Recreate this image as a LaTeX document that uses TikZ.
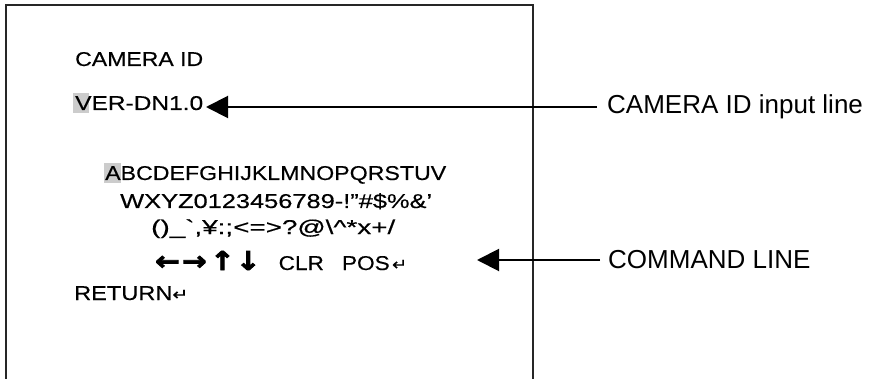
\documentclass[tikz,border=0pt]{standalone}
\usepackage{fontspec}
\usepackage{graphicx}
\setmainfont{Liberation Sans}
\newfontfamily\scr[FakeBold=0.35]{Liberation Sans}
\newfontfamily\symf[FakeBold=0.6]{DejaVu Sans}
\newfontfamily\arrf[FakeBold=3]{DejaVu Sans Bold}
\usetikzlibrary{arrows.meta}
\definecolor{hl}{gray}{0.8}
\newcommand{\fitw}[2]{\resizebox{#1}{\height}{#2}}
\newcommand{\retsym}{{\symf\fontsize{16}{16}\selectfont ↵}}
\begin{document}
\begin{tikzpicture}[x=1pt,y=-1pt,
  scrtext/.style={font=\scr\fontsize{20}{24}\selectfont, inner sep=0pt},
  lbl/.style={font=\fontsize{26}{30}\selectfont, inner sep=0pt, anchor=west},
  callout/.style={line width=2pt, -{Triangle[length=22pt,width=22pt]}},
  frame/.style={line width=1.5pt, draw=black!85}
]
\useasboundingbox (0,0) rectangle (869,379);
\draw[frame] (6,382) -- (6,5) -- (533,5) -- (533,382);
% highlights
\fill[hl] (73,93) rectangle (89,113);
\fill[hl] (104,163) rectangle (121,183);
% screen text
\node[scrtext, anchor=base west] (title) at (75,66) {\fitw{128pt}{CAMERA ID}};
\node[scrtext, anchor=base west] (idline) at (75,110) {\fitw{128pt}{VER-DN1.0}};
\node[scrtext, anchor=base west] (row1) at (105,180) {\fitw{341pt}{ABCDEFGHIJKLMNOPQRSTUV}};
\node[scrtext, anchor=base west] (row2) at (120,208) {\fitw{312pt}{WXYZ0123456789-!”\#\$\%\&’}};
\node[scrtext, anchor=base west] (row3) at (151,234) {\fitw{244pt}{()\_`,¥:;<=>?@\textbackslash\textasciicircum*x+/}};
\node[scrtext, anchor=base west] (cmd) at (155,270) {\fitw{252pt}{{\arrf\fontsize{26}{26}\selectfont ←\hspace{2pt}→\hspace{3pt}↑\hspace{1pt}↓}\hspace{16pt}CLR\hspace{16pt}POS\hspace{2pt}\retsym}};
\node[scrtext, anchor=base west] (ret) at (74,300) {\fitw{114pt}{RETURN\retsym}};
% labels
\node[lbl] (lab1) at (607,107) {CAMERA ID input line};
\node[lbl] (lab2) at (608,260) {COMMAND LINE};
\coordinate (tip1) at (206,107);
\coordinate (tip2) at (477,260);
\draw[callout] ([xshift=-10pt]lab1.west) -- (tip1);
\draw[callout] ([xshift=-8pt]lab2.west) -- (tip2);
\end{tikzpicture}
\end{document}
